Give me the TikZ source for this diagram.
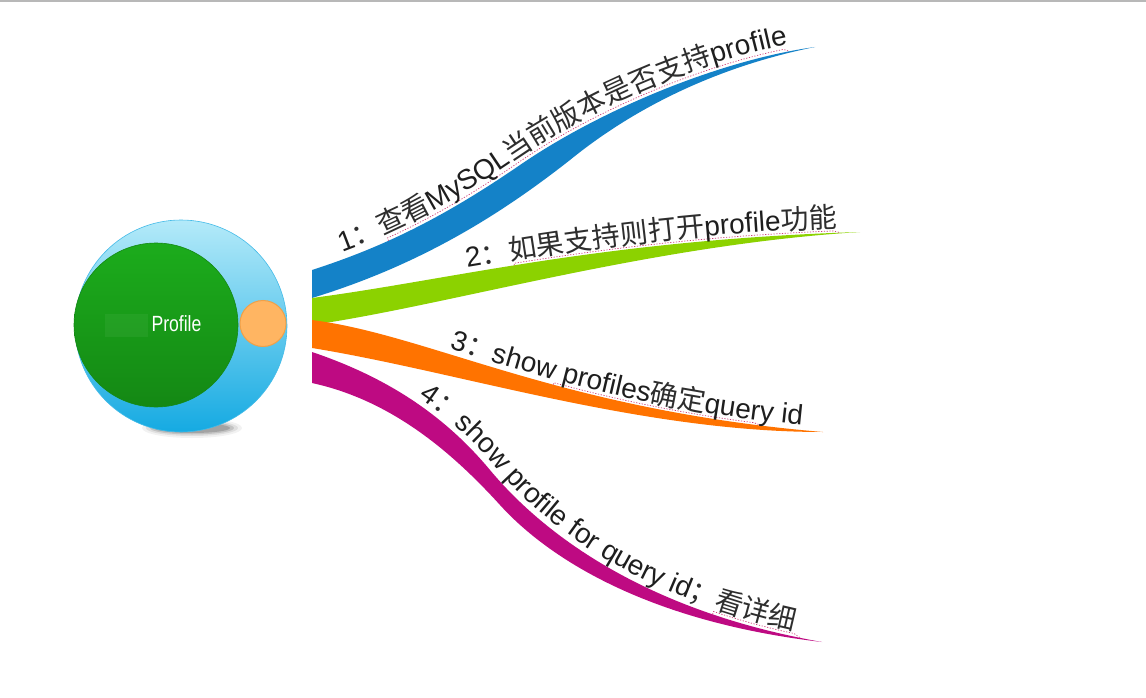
\documentclass[tikz,border=0pt]{standalone}
\usepackage{fontspec}
\setmainfont{Liberation Sans}
\newfontfamily\cjkfam{Noto Sans CJK SC}
\newfontfamily\narrowfam[FakeStretch=0.8]{Liberation Sans}
\usetikzlibrary{decorations.text,decorations.pathmorphing}
\definecolor{rblue}{HTML}{1482C8}
\definecolor{rgreen}{HTML}{8CD200}
\definecolor{rorange}{HTML}{FF7300}
\definecolor{rmag}{HTML}{BE0A82}
\definecolor{txtc}{HTML}{1E1E1E}
\definecolor{cjkc}{HTML}{2E2E2E}
\definecolor{hubtop}{HTML}{B4EAF9}
\definecolor{hubbot}{HTML}{15AAE2}
\definecolor{coretop}{HTML}{1CAC1C}
\definecolor{corebot}{HTML}{148814}
\definecolor{knob}{HTML}{FFB562}
\definecolor{knobline}{HTML}{F0A048}
\definecolor{spellc}{HTML}{D0407A}
\newcommand\mylat{\rmfamily\fontsize{28}{32}\selectfont\color{txtc}}
\newcommand\mycjk{\cjkfam\fontsize{28}{32}\selectfont\color{cjkc}}
\tikzset{
  branchtext/.style 2 args={decorate, decoration={text along path, raise=#1,
      text align={left indent=#2}}},
  spellline/.style n args={3}{draw=spellc, line width=0.7pt, dash pattern=on 1.2pt off 1.6pt,
      decorate, decoration={curveto, raise=#1, pre=moveto, pre length=#2, post=moveto, post length=#3}},
}
\begin{document}
\begin{tikzpicture}[x=1pt,y=-1pt]
\useasboundingbox (0,0) rectangle (1146,698);
\fill[white] (0,0) rectangle (1146,698);
\fill[black!28] (0,0) rectangle (1146,1.6);
% shadow under hub
\foreach \w/\h/\o in {50/10/0.05,46/8/0.08,42/6.5/0.12,38/5/0.16}{
  \fill[black,opacity=\o] (192,428) ellipse ({\w pt} and {\h pt});
}
% hub circles
\node[circle, minimum size=212pt, inner sep=0pt, top color=hubtop, bottom color=hubbot,
      draw=hubbot!80!white, line width=0.6pt] (hub) at (181,326) {};
\node[circle, minimum size=164pt, inner sep=0pt, top color=coretop, bottom color=corebot,
      draw=corebot, line width=0.6pt] (core) at (156,325) {};
\fill[white,opacity=0.05] (105,314) rectangle (148,337);
\node[text=white, font=\narrowfam\fontsize{22}{24}\selectfont] (title) at (176.5,324) {Profile};
\node[circle, minimum size=46pt, inner sep=0pt, fill=knob, draw=knobline, line width=1pt] (knob) at (263,323.5) {};
% ribbons
\fill[rblue] (312,270) .. controls (380,248) and (440,220) .. (520,165)
   .. controls (600,110) and (720,60) .. (815,47)
   .. controls (740,62) and (650,95) .. (570,160)
   .. controls (500,215) and (420,265) .. (312,298) -- cycle;
\fill[rgreen] (312,298) .. controls (450,280) and (600,240) .. (860,232)
   .. controls (650,245) and (450,305) .. (312,325) -- cycle;
\fill[rorange] (312,320) .. controls (430,335) and (560,410) .. (823,432)
   .. controls (640,432) and (460,372) .. (312,348) -- cycle;
\fill[rmag] (312,352) .. controls (380,375) and (440,410) .. (490,470)
   .. controls (540,530) and (640,610) .. (822,642)
   .. controls (650,622) and (550,560) .. (500,505)
   .. controls (450,450) and (390,400) .. (312,383) -- cycle;
% spell-check dotted underlines
\path[spellline={3pt}{82pt}{26pt}]
  (312,270) .. controls (380,248) and (440,220) .. (520,165)
   .. controls (600,110) and (720,60) .. (815,47);
\path[spellline={2pt}{205pt}{20pt}]
  (312,298) .. controls (450,280) and (600,240) .. (860,232);
\path[spellline={2pt}{250pt}{62pt}]
  (312,320) .. controls (430,335) and (560,410) .. (823,432);
\path[spellline={3pt}{485pt}{22pt}]
  (312,352) .. controls (380,375) and (440,410) .. (490,470)
   .. controls (540,530) and (640,610) .. (822,642);
% texts
\path[branchtext={7pt}{35pt}, decoration={text={|\mylat|1|\mycjk|：查看|\mylat|MySQL|\mycjk|当前版本是否支持|\mylat|profile}}]
  (312,270) .. controls (380,248) and (440,220) .. (520,165)
   .. controls (600,110) and (720,60) .. (815,47);
\path[branchtext={5pt}{158pt}, decoration={text={|\mylat|2|\mycjk|：如果支持则打开|\mylat|profile|\mycjk|功能}}]
  (312,298) .. controls (450,280) and (600,240) .. (860,232);
\path[branchtext={5pt}{140pt}, decoration={text={|\mylat|3|\mycjk|：|\mylat|show profiles|\mycjk|确定|\mylat|query id}}]
  (312,320) .. controls (430,335) and (560,410) .. (823,432);
\path[branchtext={6pt}{115pt}, decoration={text={|\mylat|4|\mycjk|：|\mylat|show profile for query id|\mycjk|；看详细}}]
  (312,352) .. controls (380,375) and (440,410) .. (490,470)
   .. controls (540,530) and (640,610) .. (822,642);
\end{tikzpicture}
\end{document}
